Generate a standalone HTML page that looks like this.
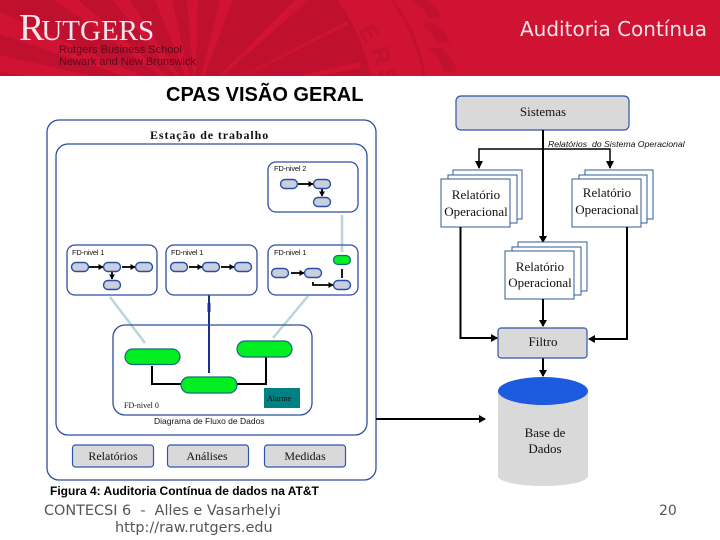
<!DOCTYPE html>
<html lang="pt"><head><meta charset="utf-8"><title>CPAS Visão Geral</title>
<style>html,body{margin:0;padding:0;background:#fff;width:720px;height:540px;overflow:hidden}svg{display:block}
text{white-space:pre}
.s{font-family:"Liberation Serif",serif;fill:#111}
.a{font-family:"Liberation Sans",sans-serif;fill:#111}
.d{font-family:"DejaVu Sans",sans-serif}
.b{fill:none;stroke:#2f4f9f;stroke-width:1.3}
.k{fill:none;stroke:#000;stroke-width:2}
.n{fill:#c9cfdc;stroke:#2a4ea8;stroke-width:1.4}
.g{fill:#00ee22;stroke:#176a7a;stroke-width:1.2}
.p{fill:#fff;stroke:#2f5d96;stroke-width:1}
.q{fill:#d9d9d9;stroke:#2f55a8;stroke-width:1.2}
</style></head><body>
<svg width="720" height="540" viewBox="0 0 720 540" xmlns="http://www.w3.org/2000/svg">
<defs>
<marker id="m" markerWidth="6" markerHeight="6" refX="4.5" refY="3" orient="auto" markerUnits="userSpaceOnUse"><path d="M0 0L5 3L0 6Z" fill="#000"/></marker>
<marker id="t" markerWidth="8" markerHeight="8" refX="6" refY="4" orient="auto" markerUnits="userSpaceOnUse"><path d="M0 0L7 4L0 8Z" fill="#000"/></marker>
<clipPath id="h"><rect width="720" height="76"/></clipPath>
</defs>
<rect width="720" height="76" fill="#d01233"/>
<g clip-path="url(#h)">
<path d="M0 0H338Q362 35 371 76H0Z" fill="#bf1030"/>
<g fill="#d01233">
<path d="M195 100L155 0H172Z"/>
<path d="M195 100L187 0H198Z"/>
<path d="M195 100L220 0H233Z"/>
<path d="M195 100L295 0H309Z"/>
<path d="M195 100L348 21V25Z"/>
<path d="M195 100L360 62V68Z"/>
<path d="M195 100L112 0H130Z"/>
<path d="M195 100L55 0H78Z"/>
<path d="M195 100L0 12V34Z"/>
<path d="M195 100L0 55V72Z"/>
</g>
<path d="M392 0Q418 35 424 76" fill="none" stroke="#c21030" stroke-width="3"/>
<g fill="#c21030">
<path d="M412 0h14q12 8 16 18h-13q-5-10-17-18z"/>
<path d="M420 23h13q12 8 17 20h-13q-5-12-17-20z"/>
<path d="M428 48h13q12 10 16 24h-13q-4-14-16-24z"/>
</g>
<g class="a" font-size="24" font-weight="bold">
<text x="358" y="30" transform="rotate(60 358 30)" style="fill:#c21030">E</text>
<text x="371" y="50" transform="rotate(72 371 50)" style="fill:#c21030">R</text>
<text x="378" y="70" transform="rotate(80 378 70)" style="fill:#c21030">S</text>
</g>
</g>
<text x="19" y="40" font-family="Liberation Serif,serif" fill="#f8e6ea" font-size="38">R<tspan font-size="29" dx="-3">UTGERS</tspan></text>
<text x="59" y="53" class="a" font-size="11" style="fill:#5a0a18">Rutgers Business School</text>
<text x="59" y="65" class="a" font-size="11" style="fill:#5a0a18">Newark and New Brunswick</text>
<text x="520" y="36" class="d" font-size="20" fill="#f6e6ea">Auditoria Contínua</text>
<text x="166" y="101" class="a" font-size="20" font-weight="bold" style="fill:#000">CPAS VISÃO GERAL</text>

<!-- left -->
<rect x="47" y="120" width="329" height="360" rx="12" class="b"/>
<rect x="56" y="144" width="311" height="291" rx="12" class="b"/>
<text x="150" y="139" class="s" font-size="12" font-weight="bold" letter-spacing=".9">Estação de trabalho</text>

<g stroke="#b9d6da" stroke-width="2.5" fill="none"><path d="M342 215V252M110 297L145 343M308 296L273 338"/></g>
<path d="M209 295V373" stroke="#1a2f8c" stroke-width="2" fill="none"/>
<rect x="207.500" y="303" width="3" height="9" fill="#1a2f8c"/>

<g class="b">
<rect x="268" y="162" width="90" height="50" rx="8"/>
<rect x="67" y="245" width="90" height="50" rx="8"/>
<rect x="166" y="245" width="91" height="50" rx="8"/>
<rect x="268" y="245" width="90" height="50" rx="8"/>
</g>
<g class="a" font-size="7.500" letter-spacing="-.2">
<text x="274" y="171">FD-nivel 2</text>
<text x="72" y="255">FD-nivel 1</text>
<text x="171" y="255">FD-nivel 1</text>
<text x="274" y="255">FD-nivel 1</text>
</g>
<g class="k" style="stroke-width:1.800">
<path marker-end="url(#m)" d="M298 184H313"/><path marker-end="url(#m)" d="M322 189V196"/>
<path marker-end="url(#m)" d="M89 267H103"/><path marker-end="url(#m)" d="M122 267H135"/><path marker-end="url(#m)" d="M112 272V279"/>
<path marker-end="url(#m)" d="M189 267H202"/><path marker-end="url(#m)" d="M221 267H234"/>
<path marker-end="url(#m)" d="M291 273H304"/><path marker-end="url(#m)" d="M313 282V285H333"/><path d="M342 269V278"/>
</g>
<g class="n">
<rect x="280.500" y="179.500" width="17" height="9" rx="4.500"/><rect x="313.500" y="179.500" width="17" height="9" rx="4.500"/><rect x="313.500" y="197.500" width="17" height="9" rx="4.500"/>
<rect x="71.500" y="262.500" width="17" height="9" rx="4.500"/><rect x="103.500" y="262.500" width="17" height="9" rx="4.500"/><rect x="135.500" y="262.500" width="17" height="9" rx="4.500"/><rect x="103.500" y="280.500" width="17" height="9" rx="4.500"/>
<rect x="170.500" y="262.500" width="17" height="9" rx="4.500"/><rect x="202.500" y="262.500" width="17" height="9" rx="4.500"/><rect x="234.500" y="262.500" width="17" height="9" rx="4.500"/>
<rect x="271.500" y="268.500" width="17" height="9" rx="4.500"/><rect x="304.500" y="268.500" width="17" height="9" rx="4.500"/><rect x="333.500" y="280.500" width="17" height="9" rx="4.500"/>
</g>
<rect x="333.500" y="255.500" width="17" height="9" rx="4.500" class="g"/>

<rect x="113" y="325" width="199" height="90" rx="12" class="b"/>
<g class="k"><path d="M152 366V384H181"/><path d="M237 384H266V355"/></g>
<rect x="125" y="349" width="55" height="15.500" rx="7.700" class="g"/>
<rect x="237" y="341" width="55" height="16" rx="8" class="g"/>
<rect x="181" y="377" width="56" height="16" rx="8" class="g"/>
<rect x="264" y="388" width="36" height="20" fill="#008080"/>
<text x="267" y="401" class="s" font-size="8">Alarme</text>
<text x="124" y="408" class="s" font-size="8">FD-nivel 0</text>
<text x="154" y="424" class="a" font-size="8.500">Diagrama de Fluxo de Dados</text>

<g class="q">
<rect x="72.500" y="445" width="81" height="22" rx="3"/><rect x="167.500" y="445" width="81" height="22" rx="3"/><rect x="264.500" y="445" width="81" height="22" rx="3"/>
</g>
<g class="s" font-size="12" text-anchor="middle">
<text x="113" y="460">Relatórios</text><text x="207" y="460">Análises</text><text x="305" y="460">Medidas</text>
</g>

<text x="50" y="495" class="a" font-size="12" font-weight="bold" style="fill:#000">Figura 4: Auditoria Contínua de dados na AT&amp;T</text>
<text x="44" y="515" class="d" font-size="14.400" fill="#555">CONTECSI 6  -  Alles e Vasarhelyi</text>
<text x="115" y="532" class="d" font-size="14.400" fill="#555">http://raw.rutgers.edu</text>
<text x="659" y="515" class="d" font-size="14" fill="#555">20</text>

<!-- right -->
<rect x="456" y="96" width="173" height="34" rx="5" class="q"/>
<text x="543" y="116" class="s" font-size="13" text-anchor="middle">Sistemas</text>
<text x="548" y="147" class="a" font-size="8.700" font-style="italic">Relatórios  do Sistema Operacional</text>
<path class="k" d="M543 130V242" marker-end="url(#t)"/>
<path d="M479 168V149H610V168" fill="none" stroke="#000" stroke-width="1.500"/>
<path d="M475 161h8l-4 8zM606 161h8l-4 8z" fill="#000"/>

<g class="p">
<rect x="453" y="170" width="69" height="49"/><rect x="448" y="175" width="69" height="48"/><rect x="441" y="179" width="69" height="48"/>
<rect x="585" y="170" width="68" height="49"/><rect x="579" y="175" width="68" height="48"/><rect x="572" y="179" width="69" height="48"/>
<rect x="518" y="242" width="69" height="49"/><rect x="512" y="247" width="69" height="48"/><rect x="505" y="251" width="69" height="48"/>
</g>
<g class="s" font-size="13" text-anchor="middle">
<text x="476" y="199">Relatório</text><text x="476" y="216">Operacional</text>
<text x="607" y="197">Relatório</text><text x="607" y="214">Operacional</text>
<text x="540" y="271">Relatório</text><text x="540" y="287">Operacional</text>
</g>
<g class="k">
<path d="M460.500 227V338H497" marker-end="url(#t)"/>
<path d="M543 299V326" marker-end="url(#t)"/>
<path d="M627 227V339H589" marker-end="url(#t)"/>
<path d="M543 358V376" marker-end="url(#t)"/>
<path d="M376 419H485" marker-end="url(#t)"/>
</g>
<rect x="498" y="328" width="89" height="30" rx="3" class="q"/>
<text x="543" y="346" class="s" font-size="13" text-anchor="middle">Filtro</text>
<path d="M498 391V476A45 10 0 0 0 588 476V391Z" fill="#d9d9d9"/>
<ellipse cx="543" cy="391" rx="45" ry="14" fill="#1c5ae0"/>
<text x="545" y="437" class="s" font-size="13" text-anchor="middle">Base de</text>
<text x="545" y="453" class="s" font-size="13" text-anchor="middle">Dados</text>
</svg>
</body></html>
